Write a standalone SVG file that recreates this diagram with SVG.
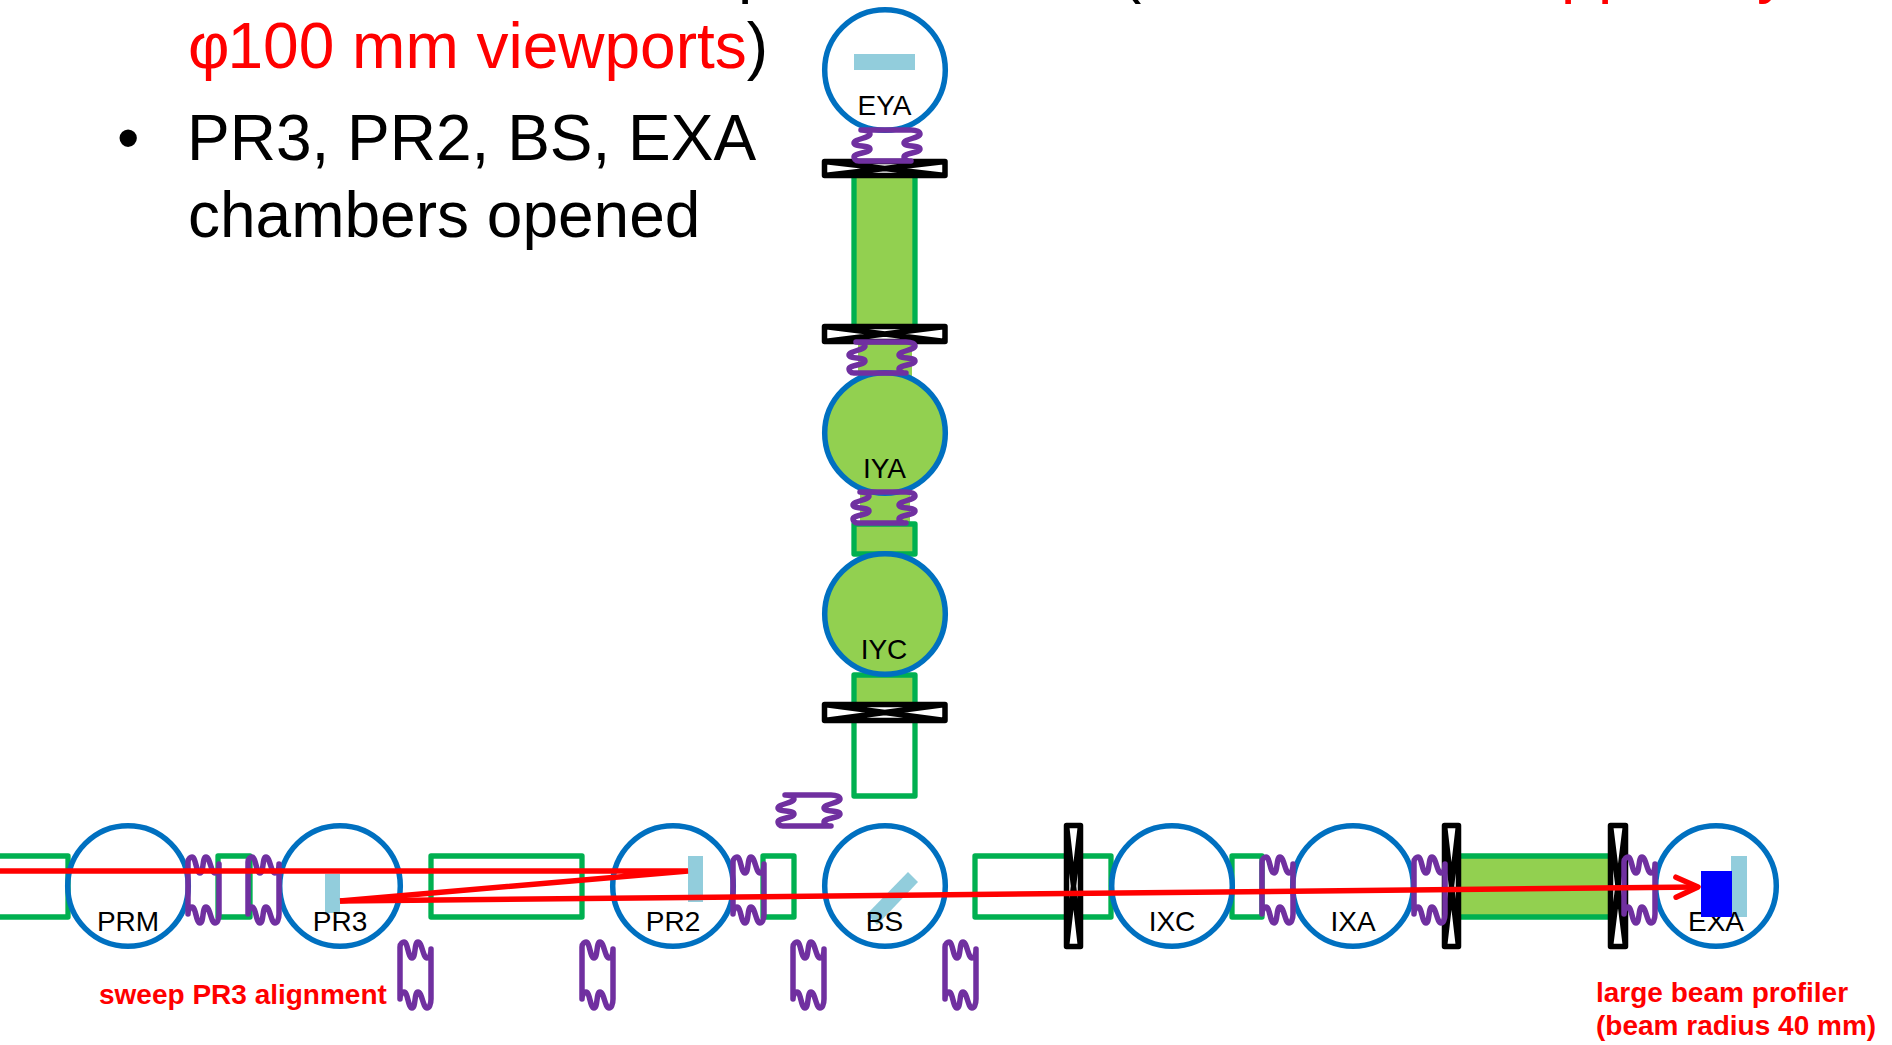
<svg xmlns="http://www.w3.org/2000/svg" width="1892" height="1045" viewBox="0 0 1892 1045">
<style>
.chamber{stroke:#0070C0;stroke-width:5.5;fill:#fff}
.chamber.on{fill:#92D050}
.duct{stroke:#00B050;stroke-width:5.3;fill:none;stroke-linejoin:round}
.duct.on{fill:#92D050}
.gate{stroke:#000;stroke-width:5.5;fill:#fff;stroke-linejoin:round}
.bel{stroke:#7030A0;stroke-width:5.5;fill:none;stroke-linecap:round;stroke-linejoin:round}
.optic{fill:#92CDDC}
.lbl{font-family:"Liberation Sans",Arial,sans-serif;font-size:28px;fill:#000;text-anchor:middle}
.red{font-family:"Liberation Sans",Arial,sans-serif;font-size:28px;font-weight:bold;fill:#f00}
.main{font-family:"Liberation Sans",Arial,sans-serif;font-size:64px;fill:#000}
.beam{stroke:#f00;stroke-width:5.5;fill:none}
</style>
<defs>
<path id="b" class="bel" d="M0,50 V-2 C0,-6 3,-7 4,-7 C8,-7 8,9 12,9 C16,9 14,-7 18,-7 C22,-7 23,9 27,9 C30,9 31,5 31,0 V50 C31,56 29,59 27,59 C23,59 22,43 18,43 C14,43 16,59 12,59 C8,59 8,43 4,43 C2,43 0,46 0,50"/>
<path id="bs" class="bel" d="M0,46 V-2 C0,-6 3,-7 4,-7 C8,-7 8,9 12,9 C16,9 14,-7 18,-7 C22,-7 23,9 27,9 C30,9 31,5 31,0 V46 C31,52 29,55 27,55 C23,55 22,39 18,39 C14,39 16,55 12,55 C8,55 8,39 4,39 C2,39 0,42 0,46"/>
<marker id="arrow" markerUnits="userSpaceOnUse" markerWidth="30" markerHeight="30" refX="24" refY="15" orient="auto" overflow="visible"><path d="M2,5 L24,15 L2,25" fill="none" stroke="#f00" stroke-width="5.5" stroke-linecap="round" stroke-linejoin="round"/></marker>
</defs>

<g id="slide-text">
<text class="main" x="738" y="-9">p</text>
<text class="main" x="1120" y="-9">(</text>
<text class="main" x="1561 1598" y="-9" style="fill:#f00">pp</text>
<text class="main" x="1757" y="-9" style="fill:#f00">y</text>
<text class="main" x="188" y="68"><tspan fill="#f00">φ<tspan dx="-2">100 mm viewports</tspan></tspan>)</text>
<text class="main" x="117" y="160">•</text>
<text class="main" x="187" y="160">PR3, PR2, BS, EXA</text>
<text class="main" x="188" y="237">chambers opened</text>
</g>

<g id="ducts">
<rect class="duct" x="-5" y="856" width="73" height="61"/>
<rect class="duct" x="218" y="856" width="32" height="61"/>
<rect class="duct" x="431" y="856" width="151" height="61"/>
<rect class="duct" x="763" y="856" width="31" height="61"/>
<rect class="duct" x="975" y="856" width="136" height="61"/>
<rect class="duct" x="1232" y="856" width="30" height="61"/>
<rect class="duct on" x="1455" y="856" width="165" height="61"/>
<rect class="duct on" x="854" y="168" width="61" height="166"/>
<rect x="858" y="340" width="54" height="40" fill="#92D050"/>
<rect x="860" y="490" width="50" height="36" fill="#92D050"/>
<rect class="duct on" x="854" y="524" width="61" height="30"/>
<rect class="duct on" x="854" y="675" width="61" height="38"/>
<rect class="duct" x="854" y="712" width="61" height="84"/>
</g>

<g id="EYA"><circle class="chamber" cx="885" cy="70" r="60.3"/><rect class="optic" x="854" y="54" width="61" height="16"/><text class="lbl" x="884.5" y="114.5">EYA</text></g>
<g id="IYA"><circle class="chamber on" cx="885" cy="433" r="60.3"/><text class="lbl" x="884.5" y="477.5">IYA</text></g>
<g id="IYC"><circle class="chamber on" cx="885" cy="614" r="60.3"/><text class="lbl" x="884" y="658.5">IYC</text></g>
<g id="PRM"><circle class="chamber" cx="128" cy="886" r="60.3" style="fill:none"/><text class="lbl" x="128" y="930.5">PRM</text></g>
<g id="PR3"><circle class="chamber" cx="340" cy="886" r="60.3"/><rect class="optic" x="325" y="874" width="15" height="39"/><text class="lbl" x="340" y="930.5">PR3</text></g>
<g id="PR2"><circle class="chamber" cx="673" cy="886" r="60.3"/><rect class="optic" x="688" y="856" width="15" height="46"/><text class="lbl" x="673" y="930.5">PR2</text></g>
<g id="BS"><circle class="chamber" cx="885" cy="886" r="60.3"/><polygon class="optic" points="908,872 918,882 877,925 867,914"/><text class="lbl" x="884.5" y="930.5">BS</text></g>
<g id="IXC"><circle class="chamber" cx="1172" cy="886" r="60.3"/><text class="lbl" x="1172" y="930.5">IXC</text></g>
<g id="IXA"><circle class="chamber" cx="1353" cy="886" r="60.3"/><text class="lbl" x="1353" y="930.5">IXA</text></g>
<g id="EXA"><circle class="chamber" cx="1716" cy="886" r="60.3"/><rect class="optic" x="1731" y="856" width="16" height="61"/><text class="lbl" x="1716" y="930.5">EXA</text><rect x="1701" y="871" width="31" height="46" fill="#00f"/></g>

<g id="gates">
<path class="gate" d="M824.5,161.5 H945 V175.5 H824.5 Z M824.5,161.5 L945,175.5 M945,161.5 L824.5,175.5"/>
<path class="gate" d="M824.5,326.5 H945 V341.5 H824.5 Z M824.5,326.5 L945,341.5 M945,326.5 L824.5,341.5"/>
<path class="gate" d="M824.5,704.5 H945 V720.5 H824.5 Z M824.5,704.5 L945,720.5 M945,704.5 L824.5,720.5"/>
<path class="gate" d="M1066.5,825.5 H1080.5 V946.5 H1066.5 Z M1066.5,825.5 L1080.5,946.5 M1080.5,825.5 L1066.5,946.5"/>
<path class="gate" d="M1444.5,825.5 H1458.5 V946.5 H1444.5 Z M1444.5,825.5 L1458.5,946.5 M1458.5,825.5 L1444.5,946.5"/>
<path class="gate" d="M1610.5,825.5 H1625.5 V946.5 H1610.5 Z M1610.5,825.5 L1625.5,946.5 M1625.5,825.5 L1610.5,946.5"/>
</g>

<g id="bellows">
<use href="#b" x="188" y="864"/>
<use href="#b" x="248" y="864"/>
<use href="#b" x="733" y="864"/>
<use href="#b" x="1262" y="864"/>
<use href="#b" x="1414" y="864"/>
<use href="#b" x="1624" y="864"/>
<use href="#b" x="400" y="949"/>
<use href="#b" x="582" y="949"/>
<use href="#b" x="793" y="949"/>
<use href="#b" x="945" y="949"/>
<use href="#b" transform="translate(861,161) rotate(-90)"/>
<use href="#b" transform="translate(856,373) rotate(-90)"/>
<use href="#bs" transform="translate(860,523) rotate(-90)"/>
<use href="#bs" transform="translate(785,826) rotate(-90)"/>
</g>

<g id="connectors">
<path class="beam" d="M-5,871 H688 L340,901"/>
<path class="beam" d="M340,901 L1698,887" marker-end="url(#arrow)"/>
</g>

<g id="labels">
<text class="red" x="99" y="1004">sweep PR3 alignment</text>
<text class="red" x="1596" y="1002">large beam profiler</text>
<text class="red" x="1596" y="1035">(beam radius 40 mm)</text>
</g>
</svg>
